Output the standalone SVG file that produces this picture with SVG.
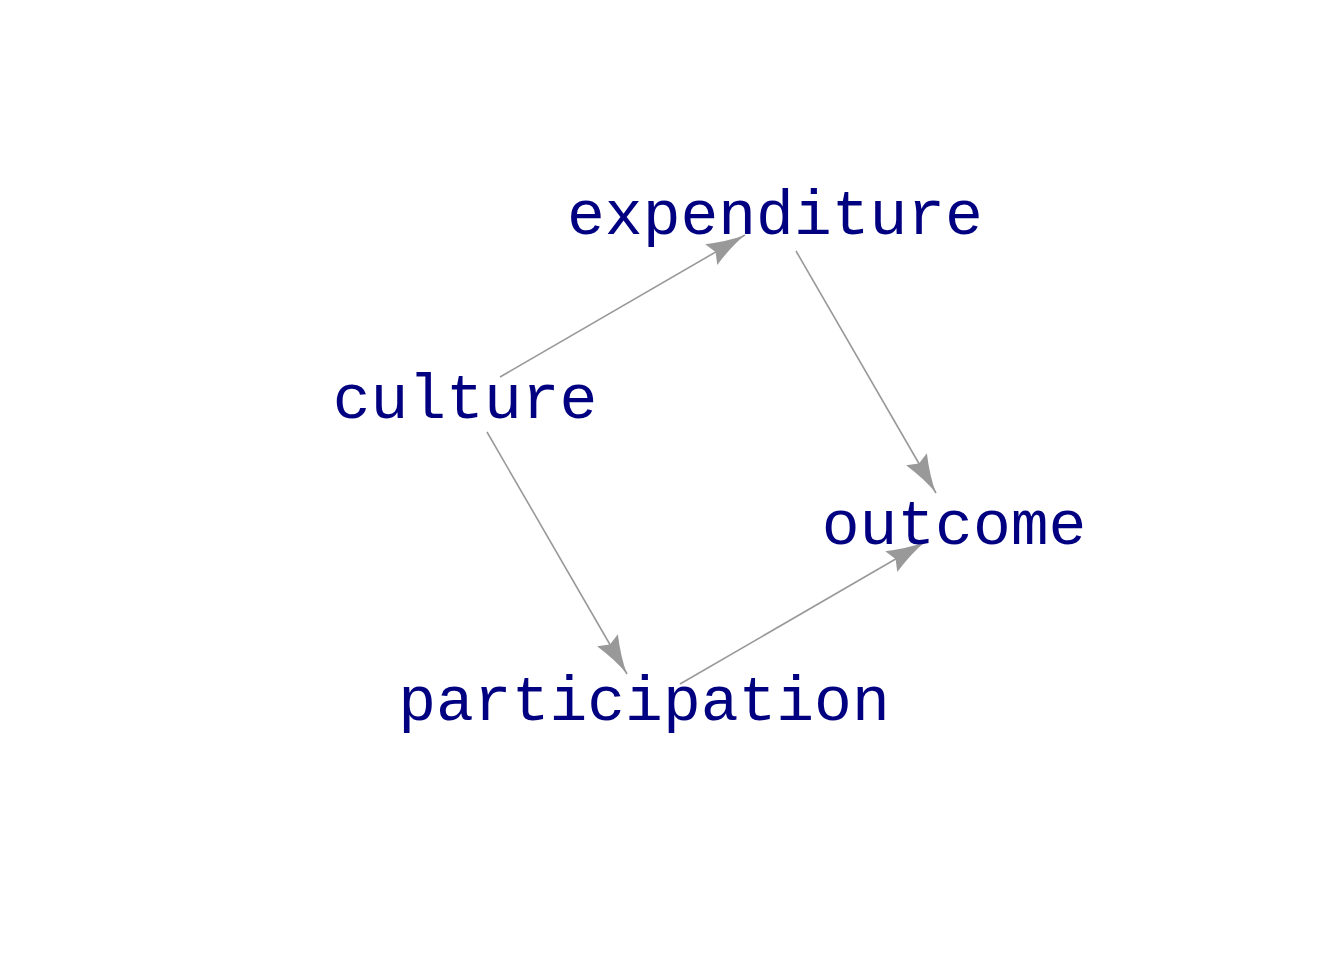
<svg xmlns="http://www.w3.org/2000/svg" width="1344" height="960" viewBox="0 0 1344 960">
<style>
.lbl{font-family:"Liberation Mono","Courier New",monospace;font-size:63px;fill:#000080;text-anchor:middle}
.edge{stroke:#999999;stroke-width:1.6;fill:none}
</style>
<defs>
<marker id="arr" markerUnits="userSpaceOnUse" markerWidth="50" markerHeight="30" viewBox="-42 -15 44 30" refX="0" refY="0" orient="auto">
<path d="M0,0 Q-18,-3 -39,-12 L-34,0 L-39,12 Q-18,3 0,0 Z" fill="#999999"/>
</marker>
</defs>
<rect width="1344" height="960" fill="#ffffff"/>
<g id="connectors">
<line class="edge" x1="500" y1="377" x2="745" y2="235" marker-end="url(#arr)"/>
<line class="edge" x1="796" y1="251" x2="936" y2="493" marker-end="url(#arr)"/>
<line class="edge" x1="487" y1="432" x2="627" y2="674" marker-end="url(#arr)"/>
<line class="edge" x1="680" y1="684" x2="925" y2="542" marker-end="url(#arr)"/>
</g>
<g id="node-culture"><text class="lbl" x="465" y="418">culture</text></g>
<g id="node-expenditure"><text class="lbl" x="775" y="234">expenditure</text></g>
<g id="node-outcome"><text class="lbl" x="954" y="544">outcome</text></g>
<g id="node-participation"><text class="lbl" x="644" y="720">participation</text></g>
</svg>
